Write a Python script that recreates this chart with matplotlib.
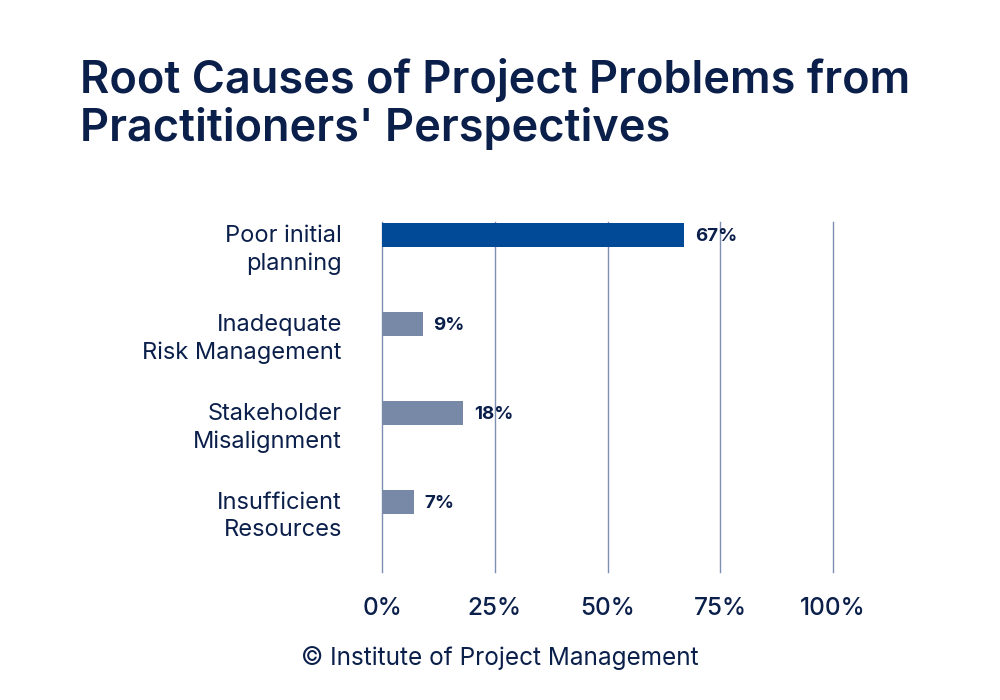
import matplotlib
matplotlib.use('Agg')
import matplotlib.pyplot as plt
import matplotlib.transforms as mtransforms

plt.rcParams['font.family'] = ['Inter', 'DejaVu Sans']

# data
categories = ['Poor initial\nplanning', 'Inadequate\nRisk Management',
              'Stakeholder\nMisalignment', 'Insufficient\nResources']
values = [67, 9, 18, 7]
value_labels = ['67%', '9%', '18%', '7%']
ticks = [0, 25, 50, 75, 100]
tick_labels = ['0%', '25%', '50%', '75%', '100%']

navy = '#0b1f4b'
grid_col = '#7c8fb0'
colors = ['#004a98', '#7889a8', '#7889a8', '#7889a8']

fig = plt.figure(figsize=(10, 7), dpi=100)
ax = fig.add_axes([0.382, 0.183, 0.451, 0.5])

ypos = list(range(len(categories)))
ax.barh(ypos, values, height=0.27, color=colors, zorder=3)

ax.set_xlim(0, 100)
ax.set_ylim(3.79, -0.146)

# vertical gridlines
for t in ticks:
    ax.axvline(t, color=grid_col, linewidth=1, zorder=1, clip_on=False)

for s in ax.spines.values():
    s.set_visible(False)
ax.set_yticks([])
ax.set_xticks(ticks)
ax.set_xticklabels(tick_labels, fontsize=17.5, color=navy, fontweight='medium')
ax.tick_params(axis='x', length=0, pad=18)

# value labels
for y, v, lab in zip(ypos, values, value_labels):
    ax.text(v + 2.4, y + 0.02, lab, va='center', ha='left', fontsize=13.5,
            fontweight='bold', color=navy, zorder=4)

# category labels
trans = mtransforms.blended_transform_factory(ax.transAxes, ax.transData)
for y, c in zip(ypos, categories):
    ax.text(-0.089, y + 0.17, c, transform=trans, ha='right', va='center',
            fontsize=17, color=navy, linespacing=1.3)

fig.text(0.08, 0.851, "Root Causes of Project Problems from\nPractitioners' Perspectives",
         ha='left', va='center', fontsize=32.5, fontweight='semibold',
         color=navy, linespacing=1.15)

fig.text(0.5, 0.06, '\u00a9 Institute of Project Management', ha='center', va='center',
         fontsize=17.5, color=navy)

fig.savefig('out.png', dpi=100, facecolor='white')
